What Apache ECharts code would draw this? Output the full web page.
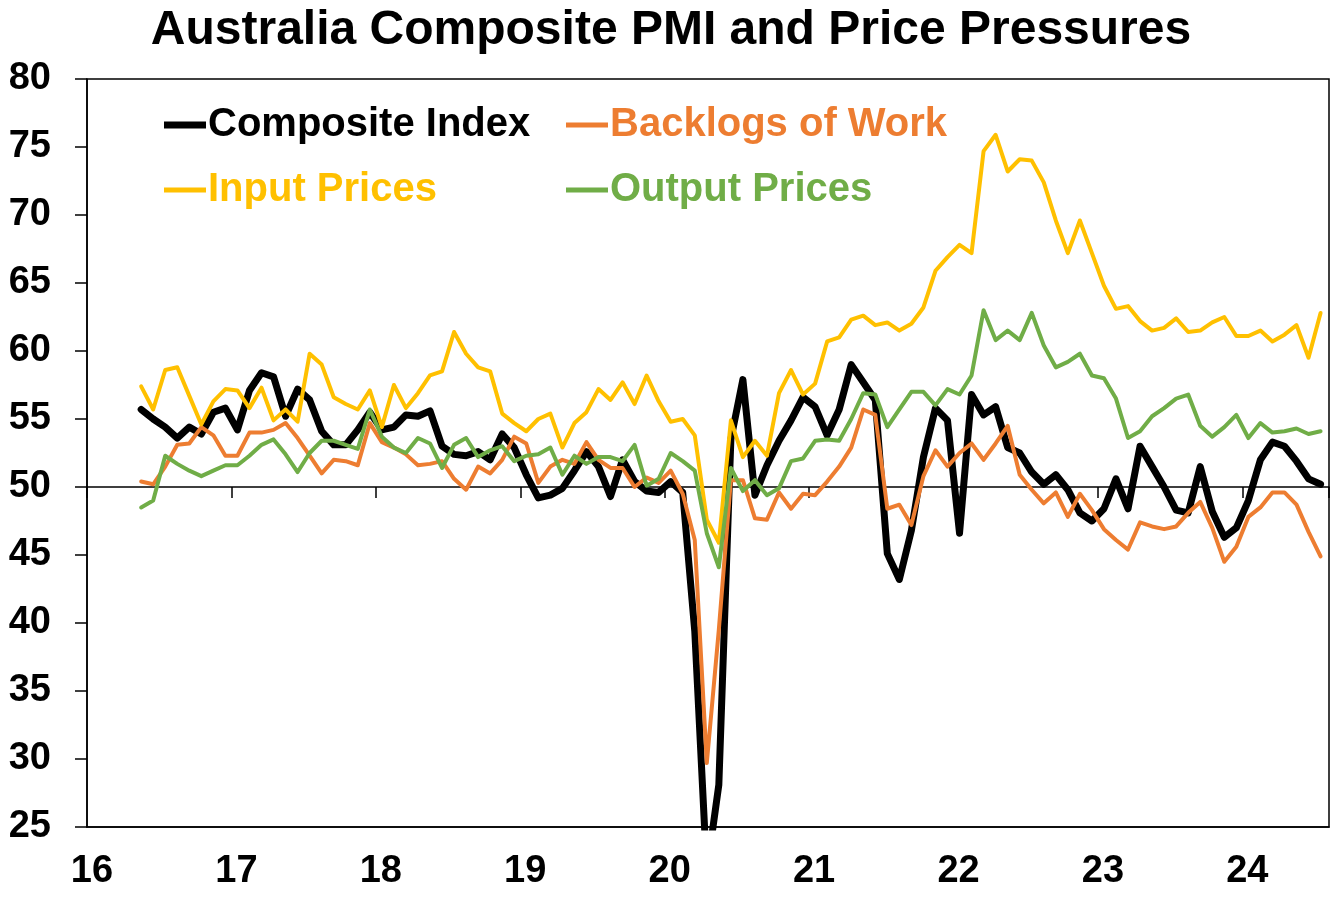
<!DOCTYPE html>
<html>
<head>
<meta charset="utf-8">
<script src="https://cdn.jsdelivr.net/npm/echarts@6/dist/echarts.min.js"></script>
<style>
  html, body { margin: 0; padding: 0; background: #fff; }
  #chart { width: 1342px; height: 901px; }
</style>
</head>
<body>
<div id="chart"></div>
<script>
// Monthly data, May 2016 - Jul 2024
const startYear = 2016;
const startMonth = 5;

const composite = [
  55.7, 55.0, 54.4, 53.6, 54.4, 53.9, 55.5, 55.8, 54.2, 57.1,
  58.4, 58.1, 55.2, 57.2, 56.4, 54.1, 53.1, 53.1, 54.2, 55.5,
  54.2, 54.4, 55.3, 55.2, 55.6, 53.0, 52.4, 52.3, 52.6, 52.0,
  53.9, 52.9, 50.9, 49.2, 49.4, 49.9, 51.2, 52.6, 51.5, 49.3,
  52.0, 50.4, 49.7, 49.6, 50.4, 49.6, 39.4, 21.7, 28.1, 53.5,
  57.9, 49.4, 51.6, 53.4, 54.9, 56.6, 55.9, 53.8, 55.7, 59.0,
  57.7, 56.4, 45.1, 43.2, 46.8, 52.2, 55.8, 54.9, 46.6, 56.8,
  55.3, 55.9, 52.9, 52.5, 51.1, 50.2, 50.9, 49.8, 48.1, 47.5,
  48.4, 50.6, 48.4, 53.0, 51.5, 50.0, 48.3, 48.1, 51.5, 48.2,
  46.3, 47.0, 49.0, 52.0, 53.3, 53.0, 51.9, 50.6, 50.2
];
const backlogs = [
  50.4, 50.2, 51.5, 53.1, 53.2, 54.4, 53.8, 52.3, 52.3, 54.0,
  54.0, 54.2, 54.7, 53.6, 52.3, 51.0, 52.0, 51.9, 51.6, 54.7,
  53.3, 52.9, 52.4, 51.6, 51.7, 51.9, 50.6, 49.8, 51.5, 51.0,
  52.0, 53.7, 53.2, 50.3, 51.5, 52.0, 51.7, 53.3, 52.0, 51.4,
  51.4, 50.0, 50.7, 50.3, 51.2, 49.5, 46.1, 29.7, 39.5, 50.5,
  50.5, 47.7, 47.6, 49.6, 48.4, 49.5, 49.4, 50.4, 51.5, 52.9,
  55.7, 55.3, 48.4, 48.7, 47.2, 50.8, 52.7, 51.5, 52.5, 53.2,
  52.0, 53.2, 54.5, 50.9, 49.8, 48.8, 49.6, 47.8, 49.5, 48.3,
  46.9, 46.1, 45.4, 47.4, 47.1, 46.9, 47.1, 48.1, 48.9, 47.0,
  44.5, 45.6, 47.8, 48.5, 49.6, 49.6, 48.7, 46.7, 44.9
];
const inputPrices = [
  57.4, 55.7, 58.6, 58.8, 56.7, 54.6, 56.3, 57.2, 57.1, 55.8,
  57.3, 54.9, 55.7, 54.8, 59.8, 59.0, 56.6, 56.1, 55.7, 57.1,
  54.4, 57.5, 55.8, 56.9, 58.2, 58.5, 61.4, 59.8, 58.8, 58.5,
  55.4, 54.7, 54.1, 55.0, 55.4, 52.9, 54.7, 55.5, 57.2, 56.4,
  57.7, 56.1, 58.2, 56.3, 54.8, 55.0, 53.8, 47.6, 45.9, 54.9,
  52.2, 53.4, 52.3, 56.9, 58.6, 56.8, 57.6, 60.7, 61.0, 62.3,
  62.6, 61.9, 62.1, 61.5, 62.0, 63.2, 65.9, 66.9, 67.8, 67.2,
  74.7, 75.9, 73.2, 74.1, 74.0, 72.4, 69.6, 67.2, 69.6, 67.2,
  64.8, 63.1, 63.3, 62.2, 61.5, 61.7, 62.4, 61.4, 61.5, 62.1,
  62.5, 61.1, 61.1, 61.5, 60.7, 61.2, 61.9, 59.5, 62.8
];
const outputPrices = [
  48.5, 49.0, 52.3, 51.7, 51.2, 50.8, 51.2, 51.6, 51.6, 52.3,
  53.1, 53.5, 52.4, 51.1, 52.5, 53.4, 53.4, 53.1, 52.8, 55.7,
  53.7, 52.9, 52.5, 53.6, 53.2, 51.4, 53.1, 53.6, 52.2, 52.7,
  53.0, 51.9, 52.3, 52.4, 52.9, 50.9, 52.3, 51.7, 52.2, 52.2,
  51.9, 53.1, 50.1, 50.6, 52.5, 51.9, 51.2, 46.6, 44.1, 51.4,
  49.7, 50.5, 49.4, 49.9, 51.9, 52.1, 53.4, 53.5, 53.4, 55.0,
  56.9, 56.8, 54.4, 55.7, 57.0, 57.0, 56.0, 57.2, 56.8, 58.2,
  63.0, 60.8, 61.5, 60.8, 62.8, 60.4, 58.8, 59.2, 59.8, 58.2,
  58.0, 56.5, 53.6, 54.1, 55.2, 55.8, 56.5, 56.8, 54.5, 53.7,
  54.4, 55.3, 53.6, 54.7, 54.0, 54.1, 54.3, 53.9, 54.1
];
const seriesNames = ['Composite Index', 'Backlogs of Work', 'Input Prices', 'Output Prices'];
const yearLabels = ['16', '17', '18', '19', '20', '21', '22', '23', '24'];
const yTicks = [25, 30, 35, 40, 45, 50, 55, 60, 65, 70, 75, 80];

const colors = ['#000000', '#ED7D31', '#FFC000', '#70AD47'];
const widths = [7, 4, 4, 4];

// month categories "YYYY-MM"
const months = composite.map((_, i) => {
  const m = startMonth - 1 + i;
  return (startYear + Math.floor(m / 12)) + '-' + String(m % 12 + 1).padStart(2, '0');
});
// position of a month on the year axis (two-digit year, mid-month)
function monthPos(label) {
  const [y, m] = label.split('-').map(Number);
  return (y - 2000) + (m - 0.5) / 12;
}
const toPairs = vals => vals.map((v, i) => [monthPos(months[i]), v]);

const FONT = "'Liberation Sans', Arial, Helvetica, sans-serif";
const xMin = Number(yearLabels[0]);
const xMax = 24.6;

const chart = echarts.init(document.getElementById('chart'), null, { renderer: 'canvas' });

const allSeries = [composite, backlogs, inputPrices, outputPrices];

const legendPos = [
  { left: 164, top: 105 },
  { left: 566, top: 105 },
  { left: 164, top: 170 },
  { left: 566, top: 170 }
];

chart.setOption({
  backgroundColor: '#ffffff',
  animation: false,
  title: {
    text: 'Australia Composite PMI and Price Pressures',
    left: 'center',
    top: 2,
    textStyle: { fontFamily: FONT, fontWeight: 'bold', fontSize: 48, color: '#000' }
  },
  legend: seriesNames.map((n, i) => ({
    data: [{ name: n, textStyle: { color: colors[i] } }],
    left: legendPos[i].left,
    top: legendPos[i].top,
    padding: 0,
    icon: 'rect',
    itemWidth: 42,
    itemHeight: i === 0 ? 7 : 5,
    itemGap: 0,
    selectedMode: false,
    textStyle: { fontFamily: FONT, fontWeight: 'bold', fontSize: 40, lineHeight: 40, padding: [0, 0, 0, -3] }
  })),
  grid: {
    left: 87, right: 13, top: 79, bottom: 74,
    show: true, borderColor: '#000', borderWidth: 1.5, backgroundColor: 'transparent'
  },
  xAxis: [
    {
      type: 'value', min: xMin, max: xMax, interval: 1,
      position: 'bottom',
      axisLine: { show: true, lineStyle: { color: '#000', width: 1.5 } },
      axisTick: { show: false },
      splitLine: { show: false },
      axisLabel: {
        fontFamily: FONT, fontWeight: 'bold', fontSize: 38, color: '#000',
        margin: 26, padding: [0, 0, 0, 10],
        formatter: v => {
          const s = String(Math.round(v));
          return (Math.abs(v - Math.round(v)) < 1e-6 && yearLabels.includes(s)) ? s : '';
        }
      }
    },
    {
      type: 'value', min: xMin, max: xMax, interval: 1,
      position: 'bottom', offset: -340,
      axisLine: { show: true, lineStyle: { color: '#000', width: 1.5 } },
      axisTick: { show: true, length: 11, lineStyle: { color: '#000', width: 1.5 } },
      axisLabel: { show: false },
      splitLine: { show: false }
    }
  ],
  yAxis: {
    type: 'value', min: yTicks[0], max: yTicks[yTicks.length - 1], interval: yTicks[1] - yTicks[0],
    axisLine: { show: true, lineStyle: { color: '#000', width: 1.5 } },
    axisTick: { show: true, length: 12, lineStyle: { color: '#000', width: 1.5 } },
    splitLine: { show: false },
    axisLabel: { fontFamily: FONT, fontWeight: 'bold', fontSize: 38, color: '#000', margin: 36 }
  },
  series: allSeries.map((vals, i) => ({
    name: seriesNames[i],
    type: 'line',
    xAxisIndex: 0,
    data: toPairs(vals),
    symbol: 'none',
    clip: true,
    color: colors[i],
    lineStyle: { color: colors[i], width: widths[i], join: 'round', cap: 'round' }
  }))
});
</script>
</body>
</html>
